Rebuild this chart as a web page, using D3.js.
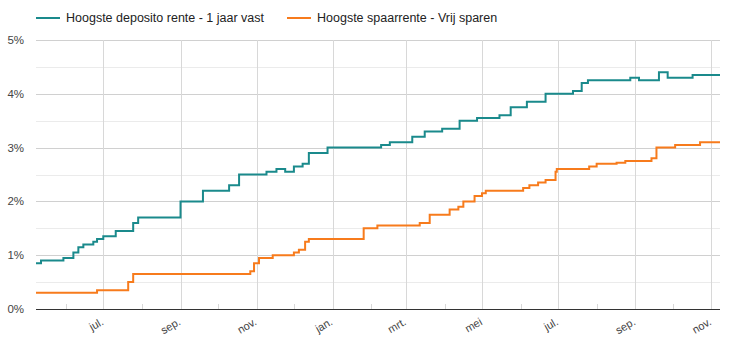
<!DOCTYPE html>
<html><head><meta charset="utf-8">
<script src="https://cdn.jsdelivr.net/npm/d3@7"></script>
<style>body{margin:0;background:#fff}svg{display:block;font-family:"Liberation Sans",Arial,sans-serif}</style>
</head><body><svg id="c" width="732" height="344"></svg>
<script>
const seriesNames = ["Hoogste deposito rente - 1 jaar vast", "Hoogste spaarrente - Vrij sparen"];
const seriesColors = ["#1a8a8c", "#f77b1c"];
const depositoDates = ["2022-05-08","2022-05-12","2022-05-30","2022-06-07","2022-06-11","2022-06-15","2022-06-23","2022-06-26","2022-07-01","2022-07-11","2022-07-25","2022-07-29","2022-09-01","2022-09-19","2022-10-10","2022-10-18","2022-11-09","2022-11-17","2022-11-24","2022-12-01","2022-12-08","2022-12-13","2022-12-28","2023-02-09","2023-02-16","2023-03-06","2023-03-16","2023-03-30","2023-04-13","2023-04-27","2023-05-15","2023-05-24","2023-06-06","2023-06-21","2023-07-13","2023-07-20","2023-07-25","2023-08-28","2023-09-04","2023-09-20","2023-09-27","2023-10-17","2023-11-08"];
const depositoValues = [0.85,0.90,0.95,1.05,1.15,1.20,1.25,1.30,1.35,1.45,1.60,1.70,2.00,2.20,2.30,2.50,2.55,2.60,2.55,2.65,2.70,2.90,3.00,3.05,3.10,3.20,3.30,3.35,3.50,3.55,3.60,3.75,3.85,4.00,4.05,4.20,4.25,4.30,4.25,4.40,4.30,4.35,4.35];
const spaarDates = ["2022-05-08","2022-06-26","2022-07-21","2022-07-25","2022-10-27","2022-10-30","2022-11-03","2022-11-14","2022-12-01","2022-12-05","2022-12-10","2022-12-13","2023-01-26","2023-02-06","2023-03-12","2023-03-20","2023-04-05","2023-04-12","2023-04-16","2023-04-25","2023-05-01","2023-05-04","2023-06-03","2023-06-08","2023-06-15","2023-06-21","2023-06-29","2023-06-30","2023-07-26","2023-08-01","2023-08-17","2023-08-24","2023-09-14","2023-09-18","2023-10-03","2023-10-23","2023-11-08"];
const spaarValues = [0.30,0.35,0.50,0.65,0.70,0.85,0.95,1.00,1.05,1.10,1.25,1.30,1.50,1.55,1.60,1.75,1.85,1.90,2.00,2.10,2.15,2.20,2.25,2.30,2.35,2.40,2.55,2.60,2.65,2.70,2.72,2.75,2.80,3.00,3.05,3.10,3.10];
const yTicks = [0,1,2,3,4,5];
const yMinorTicks = [0.5,1.5,2.5,3.5,4.5];
const xMajorDates = ["2022-07-01","2022-09-01","2022-11-01","2023-01-01","2023-03-01","2023-05-01","2023-07-01","2023-09-01","2023-11-01"];
const xMajorLabels = ["jul.","sep.","nov.","jan.","mrt.","mei","jul.","sep.","nov."];
const xMinorDates = ["2022-06-01","2022-08-01","2022-10-01","2022-12-01","2023-02-01","2023-04-01","2023-06-01","2023-08-01","2023-10-01"];
const xDomain = ["2022-05-08","2023-11-08"];

const P = d3.utcParse("%Y-%m-%d");
const svg = d3.select("#c");
const L = 36, R = 720, T = 40, B = 309;
const x = d3.scaleUtc().domain(xDomain.map(P)).range([L, R]);
const y = d3.scaleLinear().domain([0, 5]).range([B, T]);

const g = svg.append("g");
g.selectAll(".hm").data(yMinorTicks).join("line")
  .attr("x1", L).attr("x2", R).attr("y1", d => Math.round(y(d)) + 0.5).attr("y2", d => Math.round(y(d)) + 0.5)
  .attr("stroke", "#ebebeb");
g.selectAll(".hM").data(yTicks.filter(d => d > 0)).join("line")
  .attr("x1", L).attr("x2", R).attr("y1", d => Math.round(y(d)) + 0.5).attr("y2", d => Math.round(y(d)) + 0.5)
  .attr("stroke", "#d0d0d0");
g.selectAll(".vM").data(xMajorDates.map(P)).join("line")
  .attr("x1", d => Math.round(x(d)) + 0.5).attr("x2", d => Math.round(x(d)) + 0.5).attr("y1", T).attr("y2", B)
  .attr("stroke", "#d8d8d8");
g.selectAll(".vm").data(xMinorDates.map(P)).join("line")
  .attr("x1", d => Math.round(x(d)) + 0.5).attr("x2", d => Math.round(x(d)) + 0.5).attr("y1", B - 5).attr("y2", B)
  .attr("stroke", "#d8d8d8");

svg.append("g").selectAll("text").data(yTicks).join("text")
  .attr("x", 24).attr("y", d => y(d)).attr("dy", "0.35em").attr("text-anchor", "end")
  .attr("font-size", 11.5).attr("fill", "#444").text(d => d + "%");

svg.append("g").selectAll("text").data(xMajorDates).join("text")
  .attr("transform", d => `translate(${x(P(d)) + 1},${B + 15}) rotate(-30)`)
  .attr("text-anchor", "end").attr("font-size", 11).attr("fill", "#444")
  .text((d, i) => xMajorLabels[i]);

const line = d3.line().x(d => x(d[0])).y(d => y(d[1])).curve(d3.curveStepAfter);
const data = [
  depositoDates.map((d, i) => [P(d), depositoValues[i]]),
  spaarDates.map((d, i) => [P(d), spaarValues[i]])
];
svg.append("g").selectAll("path").data(data).join("path")
  .attr("d", line).attr("fill", "none").attr("stroke", (d, i) => seriesColors[i]).attr("stroke-width", 2);

svg.append("line").attr("x1", L).attr("x2", R).attr("y1", B + 0.5).attr("y2", B + 0.5)
  .attr("stroke", "#333").attr("stroke-width", 1.2);

const legX = [36, 287];
const lg = svg.append("g").selectAll("g").data(seriesNames).join("g")
  .attr("transform", (d, i) => `translate(${legX[i]},18)`);
lg.append("line").attr("x1", 0).attr("x2", 24).attr("y1", 0).attr("y2", 0)
  .attr("stroke", (d, i) => seriesColors[i]).attr("stroke-width", 2);
lg.append("text").attr("x", 30).attr("dy", "0.35em").attr("font-size", 12.5).attr("fill", "#222").text(d => d);
</script></body></html>
